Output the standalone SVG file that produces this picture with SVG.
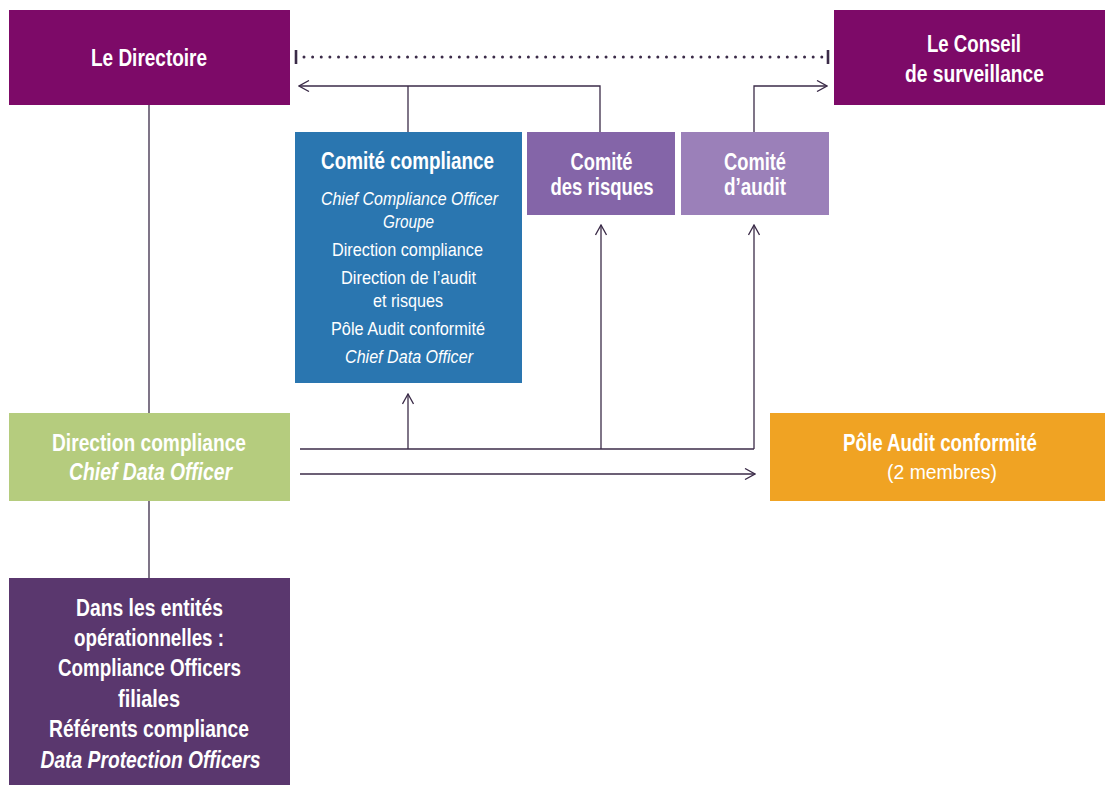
<svg xmlns="http://www.w3.org/2000/svg" width="1105" height="785" viewBox="0 0 1105 785">
<defs>
<style>
text{font-family:"Liberation Sans","Arial",sans-serif;fill:#fff;text-anchor:middle}
.b{font-weight:bold;font-size:23px}
.r{font-size:19px}
.i{font-style:italic}
.ln{stroke:#3b2b48;stroke-width:1.3;fill:none}
</style>
<marker id="ah" viewBox="0 0 12 12" refX="11" refY="6" markerWidth="12" markerHeight="12" markerUnits="userSpaceOnUse" orient="auto-start-reverse">
<path d="M1 0.5 L11 6 L1 11.5" fill="none" stroke="#3b2b48" stroke-width="1.3"/>
</marker>
</defs>
<rect width="1105" height="785" fill="#fff"/>
<g id="connectors">
<line x1="304" y1="57" x2="822" y2="57" stroke="#3b2b48" stroke-width="3" stroke-linecap="round" stroke-dasharray="0 8.63"/>
<line x1="296" y1="50" x2="296" y2="64" stroke="#3b2b48" stroke-width="2.6"/>
<line x1="828" y1="50" x2="828" y2="64" stroke="#3b2b48" stroke-width="2.6"/>
<path class="ln" d="M600 132 V86 H299" marker-end="url(#ah)"/>
<path class="ln" d="M408 132 V86"/>
<path class="ln" d="M754 132 V86 H827" marker-end="url(#ah)"/>
<path class="ln" d="M149 105 V413 M149 501 V578"/>
<path class="ln" d="M300 449 H754"/>
<path class="ln" d="M408 449 V394" marker-end="url(#ah)"/>
<path class="ln" d="M601 449 V225" marker-end="url(#ah)"/>
<path class="ln" d="M754 449 V225" marker-end="url(#ah)"/>
<path class="ln" d="M300 474 H755" marker-end="url(#ah)"/>
</g>
<g id="directoire">
<rect x="9" y="10" width="281" height="95" fill="#7d0a68"/>
<text class="b" x="149" y="66" textLength="116" lengthAdjust="spacingAndGlyphs">Le Directoire</text>
</g>
<g id="conseil">
<rect x="834" y="10" width="271" height="95" fill="#7d0a68"/>
<text class="b" x="974" y="51.5" textLength="94" lengthAdjust="spacingAndGlyphs">Le Conseil</text>
<text class="b" x="974.5" y="81.5" textLength="139" lengthAdjust="spacingAndGlyphs">de surveillance</text>
</g>
<g id="comite-compliance">
<rect x="295" y="132" width="227" height="251" fill="#2a76b0"/>
<text class="b" x="407.5" y="168.5" textLength="173" lengthAdjust="spacingAndGlyphs">Comité compliance</text>
<text class="r i" x="409.5" y="205" textLength="177" lengthAdjust="spacingAndGlyphs">Chief Compliance Officer</text>
<text class="r i" x="408.5" y="228" textLength="51" lengthAdjust="spacingAndGlyphs">Groupe</text>
<text class="r" x="407.5" y="256" textLength="151" lengthAdjust="spacingAndGlyphs">Direction compliance</text>
<text class="r" x="408.5" y="284" textLength="135" lengthAdjust="spacingAndGlyphs">Direction de l’audit</text>
<text class="r" x="408" y="306.5" textLength="70" lengthAdjust="spacingAndGlyphs">et risques</text>
<text class="r" x="408" y="335" textLength="154" lengthAdjust="spacingAndGlyphs">Pôle Audit conformité</text>
<text class="r i" x="409" y="363" textLength="128" lengthAdjust="spacingAndGlyphs">Chief Data Officer</text>
</g>
<g id="comite-risques">
<rect x="527" y="132" width="148" height="83" fill="#8465a8"/>
<text class="b" x="601.5" y="169.5" textLength="62" lengthAdjust="spacingAndGlyphs">Comité</text>
<text class="b" x="602" y="195" textLength="103" lengthAdjust="spacingAndGlyphs">des risques</text>
</g>
<g id="comite-audit">
<rect x="681" y="132" width="148" height="83" fill="#9b80b9"/>
<text class="b" x="755" y="169.5" textLength="62" lengthAdjust="spacingAndGlyphs">Comité</text>
<text class="b" x="755" y="195" textLength="62" lengthAdjust="spacingAndGlyphs">d’audit</text>
</g>
<g id="direction-compliance">
<rect x="9" y="413" width="281" height="88" fill="#b5cc7e"/>
<text class="b" x="149" y="451" textLength="194" lengthAdjust="spacingAndGlyphs">Direction compliance</text>
<text class="b i" x="150.5" y="480" textLength="163" lengthAdjust="spacingAndGlyphs">Chief Data Officer</text>
</g>
<g id="pole-audit">
<rect x="770" y="413" width="335" height="88" fill="#f0a323"/>
<text class="b" x="940" y="451" textLength="194" lengthAdjust="spacingAndGlyphs">Pôle Audit conformité</text>
<text x="942" y="479" style="font-size:20.5px" textLength="110" lengthAdjust="spacingAndGlyphs">(2 membres)</text>
</g>
<g id="entites">
<rect x="9" y="578" width="281" height="207" fill="#5a376e"/>
<text class="b" x="149.5" y="616" textLength="147" lengthAdjust="spacingAndGlyphs">Dans les entités</text>
<text class="b" x="149" y="646" textLength="150" lengthAdjust="spacingAndGlyphs">opérationnelles :</text>
<text class="b" x="149.5" y="676" textLength="183" lengthAdjust="spacingAndGlyphs">Compliance Officers</text>
<text class="b" x="149" y="707" textLength="62" lengthAdjust="spacingAndGlyphs">filiales</text>
<text class="b" x="149" y="737" textLength="200" lengthAdjust="spacingAndGlyphs">Référents compliance</text>
<text class="b i" x="150.5" y="768" textLength="220" lengthAdjust="spacingAndGlyphs">Data Protection Officers</text>
</g>
</svg>
